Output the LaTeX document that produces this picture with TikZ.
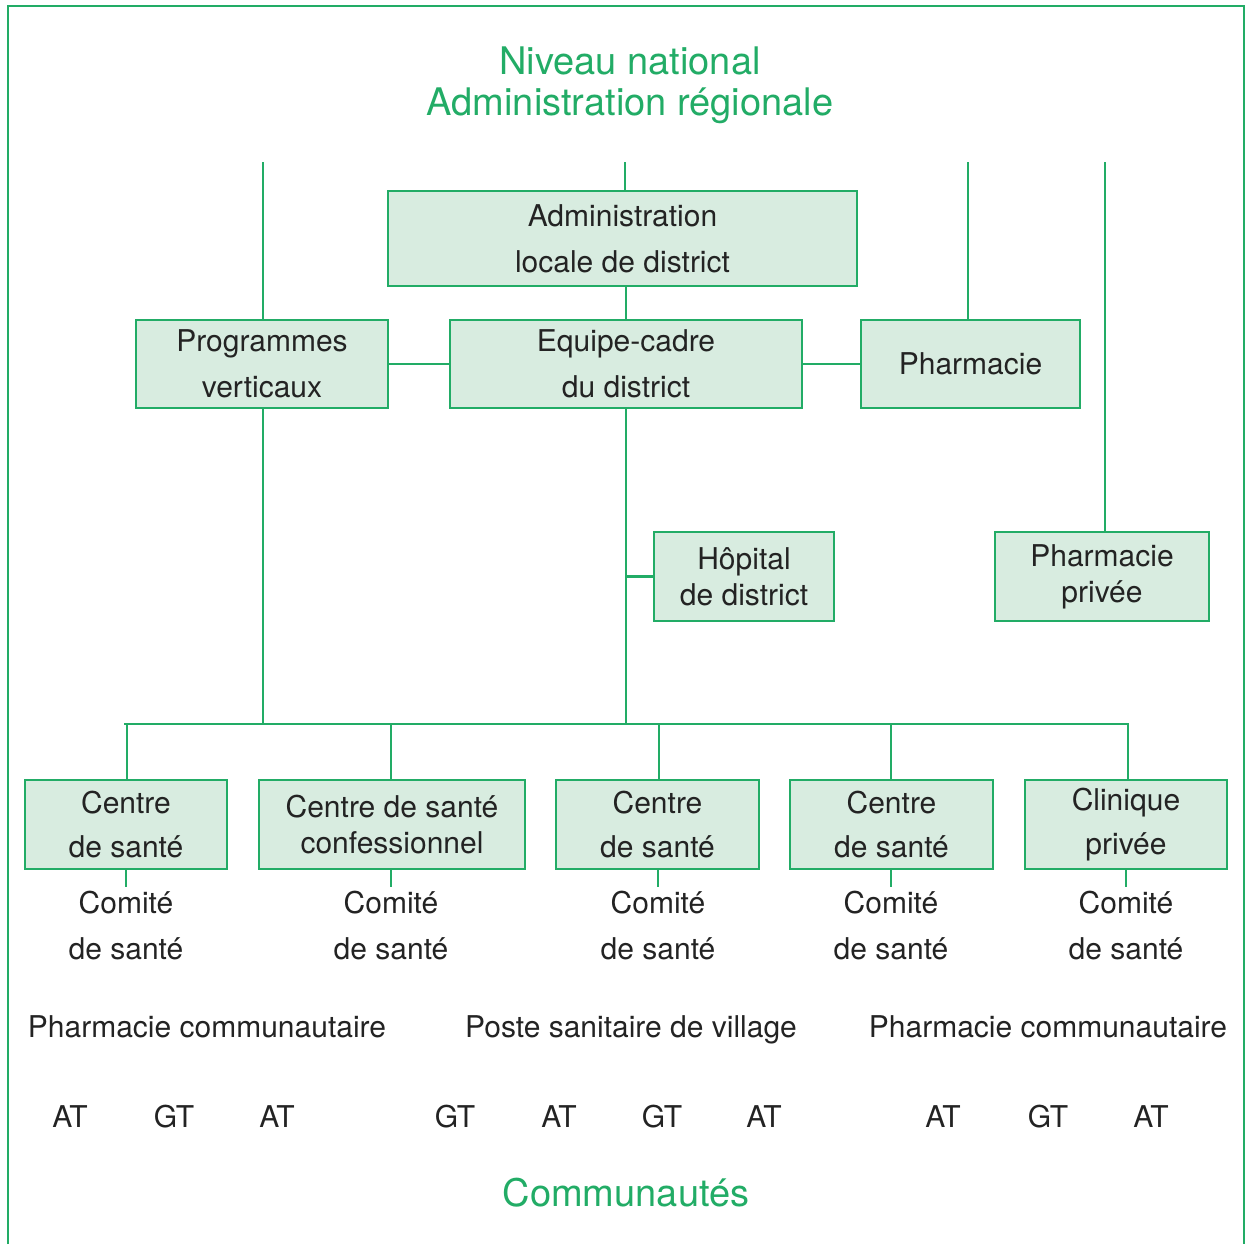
\documentclass[tikz,border=0pt]{standalone}
\usepackage{fontspec}
\setmainfont{TeX Gyre Heros}
\definecolor{gr}{RGB}{34,172,102}
\definecolor{fillg}{RGB}{216,236,224}
\definecolor{txt}{RGB}{35,35,35}
\begin{document}
\begin{tikzpicture}[x=0.5pt,y=-0.5pt,
  box/.style={draw=gr, fill=fillg, line width=1.3pt, inner sep=0pt, align=center, text=txt, font=\fontsize{15}{23}\selectfont},
  tightbox/.style={box, font=\fontsize{15}{18}\selectfont},
  midbox/.style={box, font=\fontsize{15}{22}\selectfont},
  conn/.style={draw=gr, line width=1.3pt},
  lbl/.style={text=txt, align=center, inner sep=2pt, font=\fontsize{15}{23}\selectfont},
  slbl/.style={lbl, text height=11pt, text depth=3pt},
  ttl/.style={text=gr, align=center, inner sep=0pt, font=\fontsize{19}{20.5}\selectfont}]
\useasboundingbox (0,0) rectangle (1246,1244);
\draw[conn, line width=1pt] (8,1244) -- (8,6) -- (1244,6) -- (1244,1244);

\node[ttl] (title) at (630,85) {Niveau national\\Administration régionale};

\node[box, minimum width=234.5pt, minimum height=47.5pt] (adm) at (622.5,238.5) {Administration\\locale de district};
\node[box, minimum width=126pt, minimum height=44pt] (prog) at (262,364) {Programmes\\verticaux};
\node[box, minimum width=176pt, minimum height=44pt] (eq) at (626,364) {Equipe-cadre\\du district};
\node[box, minimum width=109.5pt, minimum height=44pt] (ph) at (970.5,364) {Pharmacie};
\node[tightbox, minimum width=90pt, minimum height=44.5pt] (hop) at (744,576.5) {Hôpital\\de district};
\node[tightbox, minimum width=107pt, minimum height=44.5pt] (pp) at (1102,576.5) {Pharmacie\\privée};

\node[midbox, minimum width=101pt, minimum height=44.5pt] (c1) at (126,824.5) {Centre\\de santé};
\node[tightbox, minimum width=133pt, minimum height=44.5pt] (c2) at (392,824.5) {Centre de santé\\confessionnel};
\node[midbox, minimum width=101.5pt, minimum height=44.5pt] (c3) at (657.5,824.5) {Centre\\de santé};
\node[midbox, minimum width=101.5pt, minimum height=44.5pt] (c4) at (891.5,824.5) {Centre\\de santé};
\node[midbox, minimum width=101pt, minimum height=44.5pt] (c5) at (1126,824.5) {Clinique\\privée};

\foreach \i/\x in {1/126,2/391,3/658,4/891,5/1126}{
  \node[lbl, anchor=north] (k\i) at (\x,887) {Comité\\de santé};
}

\node[slbl] (pc1) at (207,1029) {Pharmacie communautaire};
\node[slbl] (psv) at (631,1029) {Poste sanitaire de village};
\node[slbl] (pc2) at (1048,1029) {Pharmacie communautaire};

\foreach \n/\x/\t in {a1/70/AT,a2/174/GT,a3/277/AT,a4/455/GT,a5/559/AT,a6/662/GT,a7/764/AT,a8/943/AT,a9/1048/GT,a10/1151/AT}{
  \node[lbl] (\n) at (\x,1117) {\t};
}

\node[ttl] (comm) at (626,1193) {Communautés};

% top lines
\coordinate (t1) at (263,162);
\coordinate (t2) at (625,162);
\coordinate (t3) at (968,162);
\coordinate (t4) at (1105,162);
\draw[conn] (t1) -- (t1 |- prog.north);
\draw[conn] (t2) -- (t2 |- adm.north);
\draw[conn] (t3) -- (t3 |- ph.north);
\draw[conn] (t4) -- (t4 |- pp.north);
\draw[conn] (adm.south -| eq.north) -- (eq.north);
\draw[conn] (prog.east) -- (eq.west);
\draw[conn] (eq.east) -- (ph.west);

% bus
\coordinate (busL) at (124,724);
\coordinate (busR) at (1129,724);
\draw[conn] (busL) -- (busR);
\draw[conn] (prog.south -| t1) -- (t1 |- busL);
\draw[conn] (eq.south) -- (eq.south |- busL);
\draw[conn] (hop.west) -- (hop.west -| eq.south);
\draw[conn] (c1.north -| 127,0) -- (127,724);
\draw[conn] (c2.north -| 391,0) -- (391,724);
\draw[conn] (c3.north -| 659,0) -- (659,724);
\draw[conn] (c4.north -| 891,0) -- (891,724);
\draw[conn] (c5.north -| 1128,0) -- (1128,724);

\foreach \i in {1,...,5}{
  \draw[conn] (c\i.south -| k\i.north) -- (k\i.north);
}
\end{tikzpicture}
\end{document}
